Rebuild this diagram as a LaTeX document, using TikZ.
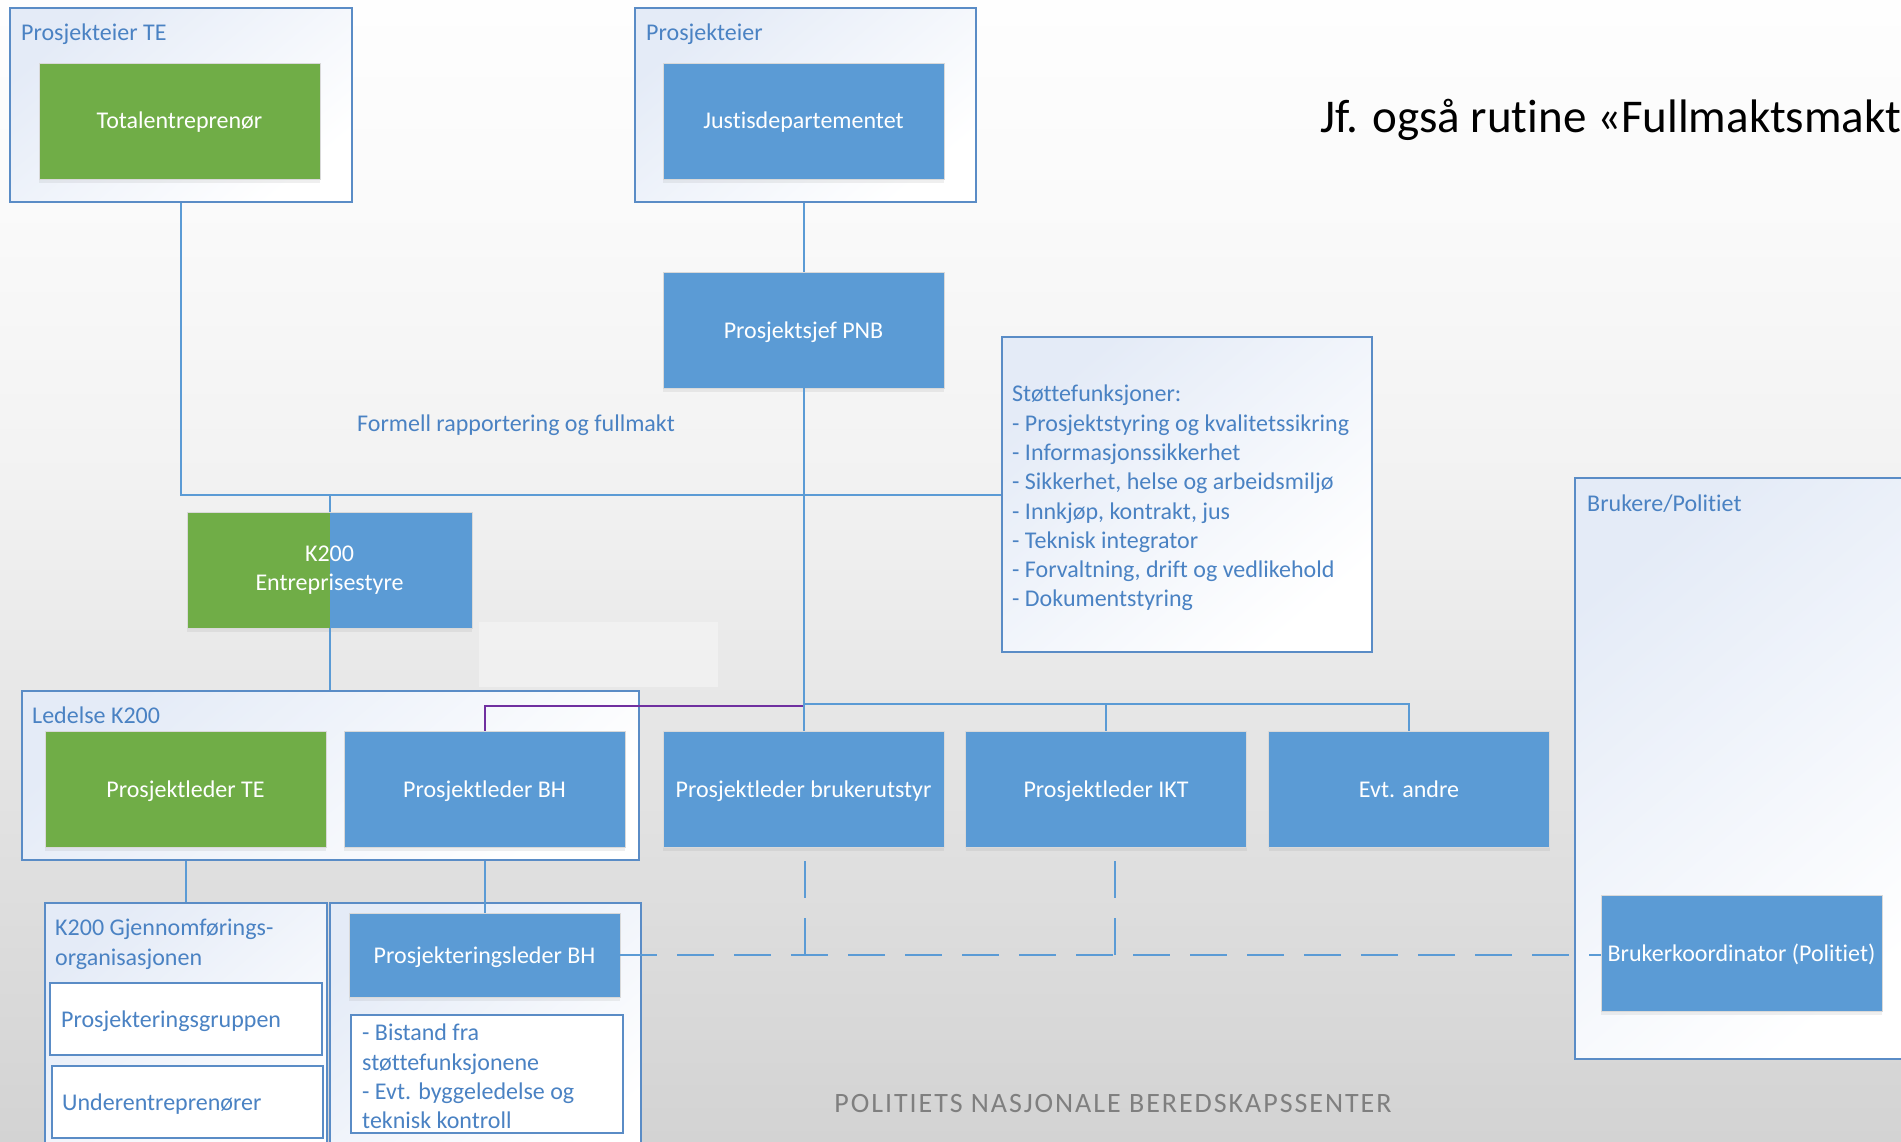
\documentclass[tikz,border=0pt]{standalone}
\usepackage{fontspec}
\setmainfont{Carlito}[Ligatures=NoCommon]
\usetikzlibrary{shadows,fit}

\definecolor{accblue}{HTML}{5B9BD5}
\definecolor{accgreen}{HTML}{70AD47}
\definecolor{framecol}{HTML}{5A8CC6}
\definecolor{labelcol}{HTML}{4A82C3}
\definecolor{framefill}{HTML}{E4EBF7}
\definecolor{linkpurple}{HTML}{7030A0}
\definecolor{footgray}{HTML}{7F7F7F}
\definecolor{bgA}{HTML}{D3D3D3}
\definecolor{bgB}{HTML}{E2E2E2}
\definecolor{bgC}{HTML}{F2F2F2}
\definecolor{bgD}{HTML}{FAFAFA}
\definecolor{bgE}{HTML}{FEFEFE}

\newcommand{\fsz}[2]{\fontsize{#1}{#2}\selectfont}

% page background: white at the top, light grey at the bottom
\pgfdeclareverticalshading{pagebg}{100bp}{color(0bp)=(bgA); color(25bp)=(bgA);
  color(40bp)=(bgB); color(54bp)=(bgC); color(66bp)=(bgD); color(75bp)=(bgE); color(100bp)=(bgE)}

\begin{document}
\begin{tikzpicture}[x=1pt,y=-1pt,
  lbl/.style={font=\fsz{24}{29.3}, text=labelcol, inner sep=0pt},
  boxbase/.style={rectangle, inner sep=0pt, text=white, font=\fsz{24}{29}, align=center,
    draw=black!15, line width=0.8pt,
    drop shadow={shadow xshift=0pt, shadow yshift=-4pt, opacity=0.12}},
  oneline/.style={text height=19pt, text depth=3pt},
  bluebox/.style={boxbase, oneline, fill=accblue, minimum width=281pt, minimum height=116pt},
  greenbox/.style={boxbase, oneline, fill=accgreen, minimum width=281pt, minimum height=116pt},
  frame/.style={rectangle, inner sep=0pt, draw=framecol, line width=1.6pt,
    top color=framefill, bottom color=white, shading angle=40},
  plainframe/.style={rectangle, inner sep=0pt, draw=framecol, line width=1.6pt, fill=white},
  link/.style={draw=accblue, line width=2pt},
  purplelink/.style={draw=linkpurple, line width=2pt},
  dashlink/.style={draw=accblue, line width=2.2pt, dash pattern=on 37pt off 20pt},
]
\useasboundingbox (0,0) rectangle (1901,1142);
\clip (0,0) rectangle (1901,1142);
\shade[shading=pagebg] (0,0) rectangle (1901,1142);

% ---------- group frames ----------
\node[frame, fit={(10,8) (352,202)}] (cte) {};
\node[frame, fit={(635,8) (976,202)}] (cjd) {};
\node[frame, fit={(1002,337) (1372,652)}] (st) {};
\node[frame, fit={(1575,478) (1930,1059)}] (cbr) {};
\node[frame, fit={(22,691) (639,860)}] (cled) {};
\node[frame, fit={(45,903) (327,1170)}] (cgj) {};
\node[frame, fit={(330,903) (641,1170)}] (cbh) {};
\node[plainframe, fit={(50,983) (322,1055)}] (pg) {};
\node[plainframe, fit={(52,1066) (323,1138)}] (ue) {};
\node[plainframe, fit={(351,1015) (623,1133)}] (bi) {};

% faint light patch beside the board box
\fill[white, opacity=0.35] (479,622) rectangle (718,687);

% ---------- boxes ----------
\node[greenbox] (te) at (179.5,121) {Totalentreprenør};
\node[bluebox] (jd) at (803.5,121) {Justisdepartementet};
\node[bluebox] (pnb) at (803.5,330) {Prosjektsjef PNB};
\node[boxbase, fill=accblue, minimum width=285pt, minimum height=116pt,
  path picture={\fill[accgreen] (path picture bounding box.south west) rectangle (path picture bounding box.north);}]
  (k200) at (329.5,570) {K200\\Entreprisestyre};
\node[greenbox] (plte) at (185.5,789) {Prosjektleder TE};
\node[bluebox] (plbh) at (484.5,789) {Prosjektleder BH};
\node[bluebox] (plbu) at (803.5,789) {Prosjektleder brukerutstyr};
\node[bluebox] (plikt) at (1106,789) {Prosjektleder IKT};
\node[bluebox] (evt) at (1409,789) {Evt. andre};
\node[bluebox, minimum width=271pt, minimum height=84pt] (pls) at (484.5,955) {Prosjekteringsleder BH};
\node[bluebox] (bk) at (1741.5,953) {Brukerkoordinator (Politiet)};

% ---------- connectors ----------
\coordinate (bus) at (803.5,704);
\coordinate (busp) at (803.5,706);
\draw[purplelink] (plbh.north) |- (busp);
\draw[link] (cte.south) |- (st.west);
\draw[link] (cjd.south -| pnb.north) -- (pnb.north);
\draw[link] (pnb.south) -- (plbu.north);
\draw[link] (bus) -| (plikt.north);
\draw[link] (bus) -| (evt.north);
\draw[link] (k200.north) -- (k200.north |- st.west);
\draw[link] (k200.south) -- (k200.south |- cled.north);
\draw[link] (plte.south |- cled.south) -- (plte.south |- cgj.north);
\draw[link] (plbh.south |- cled.south) -- (pls.north);

\coordinate (dbu) at (805,861);
\coordinate (dikt) at (1115,861);
\draw[dashlink] (pls.east) -- (pls.east -| bk.west);
\draw[dashlink] (dbu) -- (dbu |- pls.east);
\draw[dashlink] (dikt) -- (dikt |- pls.east);

% ---------- texts ----------
\node[lbl, anchor=west] (lte) at (21,34) {Prosjekteier TE};
\node[lbl, anchor=west] (ljd) at (646,34) {Prosjekteier};
\node[lbl] (fr) at (516,425) {Formell rapportering og fullmakt};
\node[lbl, anchor=north west, align=left] (stxt) at (1012,385) {Støttefunksjoner:\\
- Prosjektstyring og kvalitetssikring\\
- Informasjonssikkerhet\\
- Sikkerhet, helse og arbeidsmiljø\\
- Innkjøp, kontrakt, jus\\
- Teknisk integrator\\
- Forvaltning, drift og vedlikehold\\
- Dokumentstyring};
\node[lbl, anchor=west] (lbr) at (1587,504) {Brukere/Politiet};
\node[lbl, anchor=west] (lled) at (32,715) {Ledelse K200};
\node[lbl, anchor=north west, align=left] (lgj) at (55,919) {K200 Gjennomførings-\\organisasjonen};
\node[lbl, anchor=west] (tpg) at (61,1021) {Prosjekteringsgruppen};
\node[lbl, anchor=west] (tue) at (62,1104) {Underentreprenører};
\node[lbl, anchor=north west, align=left] (tbi) at (362,1024) {- Bistand fra\\støttefunksjonene\\- Evt. byggeledelse og\\teknisk kontroll};

\node[anchor=west, inner sep=0pt, font=\fsz{47}{55}] (jf) at (1320,120) {Jf. også rutine «Fullmaktsmakt};
\node[inner sep=0pt, text=footgray, font=\fsz{28}{34}\addfontfeatures{LetterSpace=7}] (foot) at (1113,1104)
  {POLITIETS NASJONALE BEREDSKAPSSENTER};
\end{tikzpicture}
\end{document}
